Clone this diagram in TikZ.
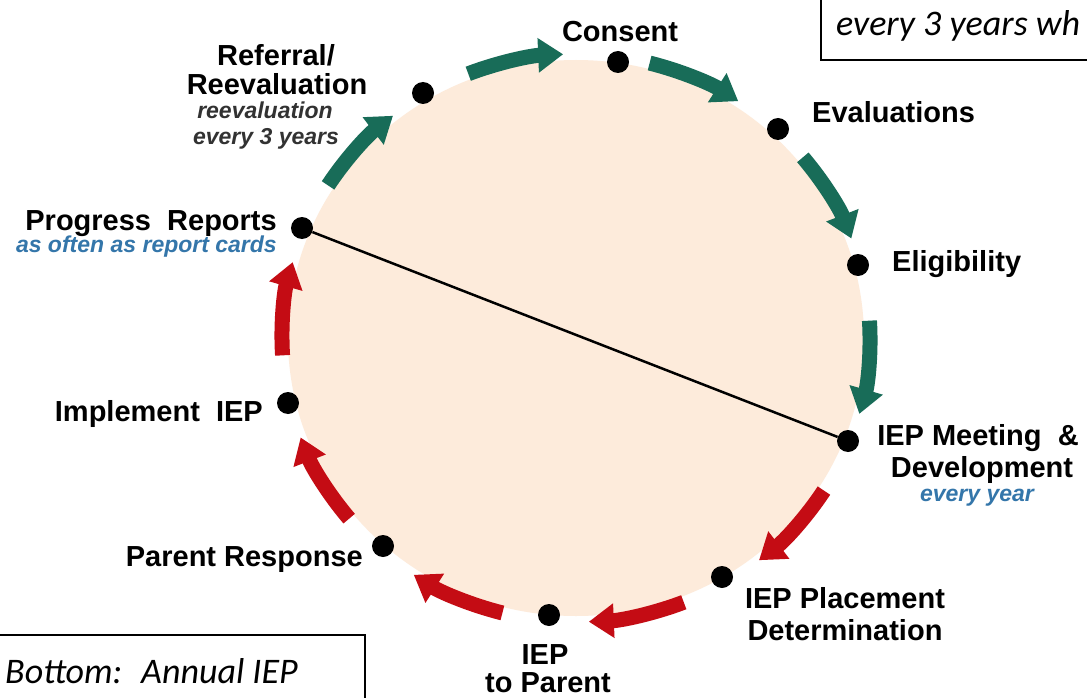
\documentclass[tikz,border=0pt]{standalone}
\usepackage{fontspec}
\setmainfont{Liberation Sans}
\newfontfamily\boxfont{Carlito}
\usetikzlibrary{arrows.meta,calc}
\definecolor{peach}{RGB}{253,235,219}
\definecolor{cgreen}{RGB}{24,108,88}
\definecolor{cred}{RGB}{196,12,20}
\definecolor{cblue}{RGB}{52,118,170}
\definecolor{cgray}{RGB}{50,50,50}
\begin{document}
\begin{tikzpicture}[x=1pt,y=1pt,
  dot/.style={circle,fill=black,inner sep=0pt,minimum size=22pt},
  lab/.style={font=\bfseries\fontsize{29}{31}\selectfont, inner sep=0pt, text=black},
  sub/.style={font=\bfseries\itshape\fontsize{23}{25}\selectfont, inner sep=0pt},
  garrow/.style={line width=15pt, cgreen, -{Triangle[width=33pt,length=25pt]}},
  rarrow/.style={line width=15pt, cred, -{Triangle[width=33pt,length=25pt]}},
  boxtext/.style={font=\boxfont\itshape\fontsize{36}{40}\selectfont, inner sep=0pt},
  boxline/.style={draw=black, line width=1.5pt}]
\useasboundingbox (0,0) rectangle (1087,-698);
\clip (0,0) rectangle (1087,-698);
\fill[white] (0,0) rectangle (1087,-698);
\coordinate (C) at (576,-338);
\fill[peach] (C) ellipse [x radius=288pt, y radius=278pt];
% arrows
\foreach \c in {138,102,66,30,-6}
  \draw[garrow] ($(C)+(\c+9.5:294pt and 284pt)$) arc[start angle=\c+9.5, end angle=\c-9.5, x radius=294pt, y radius=284pt];
\foreach \c in {-42,-78,-114,-150,-186}
  \draw[rarrow] ($(C)+(\c+9.5:294pt and 284pt)$) arc[start angle=\c+9.5, end angle=\c-9.5, x radius=294pt, y radius=284pt];
% dots
\node[dot] (dconsent) at (618,-62) {};
\node[dot] (deval) at (778,-129) {};
\node[dot] (delig) at (858,-265) {};
\node[dot] (dmeet) at (848,-441) {};
\node[dot] (dplace) at (722,-577) {};
\node[dot] (dtoparent) at (549,-615) {};
\node[dot] (dresp) at (383,-546) {};
\node[dot] (dimpl) at (288,-403) {};
\node[dot] (dprog) at (302,-228) {};
\node[dot] (dref) at (423,-93) {};
\draw[line width=2.5pt] (dprog) -- (dmeet);
% labels
\node[lab, anchor=base] (lref1) at (276,-66) {Referral/};
\node[lab, anchor=base] (lref2) at (277,-95) {Reevaluation};
\node[sub, text=cgray, anchor=base] (lref3) at (265,-119) {reevaluation};
\node[sub, text=cgray, anchor=base] (lref4) at (266,-145) {every 3 years};
\node[lab, anchor=base] (lconsent) at (620,-42) {Consent};
\node[lab, anchor=base west] (leval) at (812,-123) {Evaluations};
\node[lab, anchor=base west] (lelig) at (892,-271) {Eligibility};
\node[lab, anchor=base east] (lprog) at (277,-230) {Progress~ Reports};
\node[sub, text=cblue, anchor=base east] (lprog2) at (277,-252) {as often as report cards};
\node[lab, anchor=base east] (limpl) at (263,-421) {Implement~ IEP};
\node[lab, anchor=base east] (lresp) at (363,-566) {Parent Response};
\node[lab, anchor=base] (ltp1) at (545,-664) {IEP};
\node[lab, anchor=base] (ltp2) at (548,-692) {to Parent};
\node[lab, anchor=base] (lpl1) at (845,-608) {IEP Placement};
\node[lab, anchor=base] (lpl2) at (845,-640) {Determination};
\node[lab, anchor=base] (lmt1) at (978,-445) {IEP Meeting~ \&};
\node[lab, anchor=base] (lmt2) at (982,-477) {Development};
\node[sub, text=cblue, anchor=base] (lmt3) at (977,-501) {every year};
% boxes
\draw[boxline] (821,10) rectangle (1100,-60);
\node[boxtext, anchor=base west] (tbox) at (836,-36) {every 3 years wh};
\draw[boxline] (-10,-635) rectangle (365,-710);
\node[boxtext, anchor=base west] (bbox) at (5,-683) {Bottom:~ Annual IEP};
\end{tikzpicture}
\end{document}
